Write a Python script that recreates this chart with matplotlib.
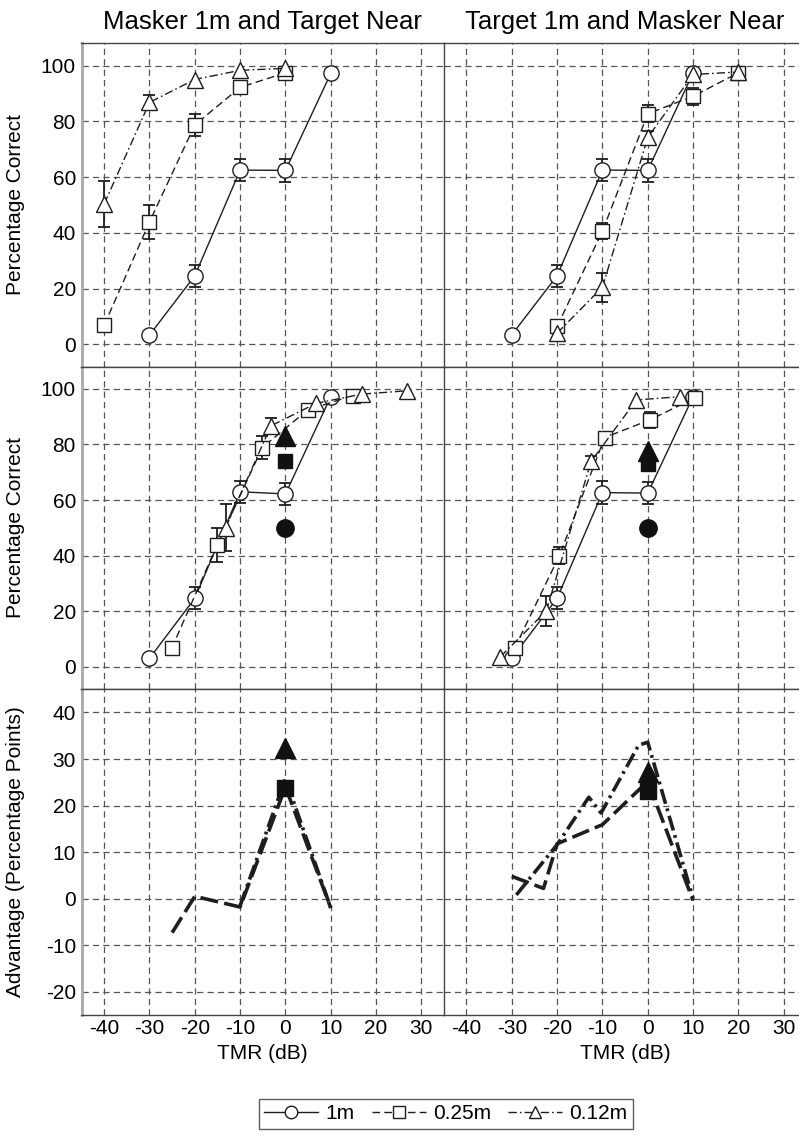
import numpy as np
import matplotlib.pyplot as plt
from matplotlib.lines import Line2D

plt.rcParams['font.family'] = ['Liberation Sans', 'DejaVu Sans']
plt.rcParams['lines.scale_dashes'] = False
plt.rcParams['axes.unicode_minus'] = False

# ---- data (TMR in dB, percentage correct, error half-widths) ----
# top row, masker 1m / target near
tl_1m_x = [-30, -20, -10, 0, 10]
tl_1m_y = [3.3, 24.6, 62.5, 62.4, 97.2]
tl_1m_e = [0, 4, 4, 4, 0]
tl_25_x = [-40, -30, -20, -10, 0]
tl_25_y = [6.8, 43.9, 78.7, 92.2, 97.4]
tl_25_e = [0, 6, 4, 1.5, 0]
tl_12_x = [-40, -30, -20, -10, 0]
tl_12_y = [50.3, 86.8, 95.0, 98.3, 99.0]
tl_12_e = [8.3, 2.7, 0, 0, 0]

# top row, target 1m / masker near
tr_1m_x = [-30, -20, -10, 0, 10]
tr_1m_y = [3.4, 24.6, 62.5, 62.4, 97.4]
tr_1m_e = [0, 4, 4, 4, 0]
tr_25_x = [-20, -10, 0, 10, 20]
tr_25_y = [6.4, 40.6, 82.7, 89.0, 97.4]
tr_25_e = [0, 3, 3, 3, 0]
tr_12_x = [-20, -10, 0, 10, 20]
tr_12_y = [4.0, 20.5, 74.2, 96.8, 97.7]
tr_12_e = [0, 5.2, 2.5, 0, 0]

# middle row, masker 1m / target near (shifted TMR)
ml_1m_x = [-30, -20, -10, 0, 10]
ml_1m_y = [3.1, 24.7, 63.0, 62.2, 97.2]
ml_1m_e = [0, 4, 4, 4, 0]
ml_25_x = [-25.1, -15.1, -5.1, 4.9, 14.9]
ml_25_y = [6.7, 43.8, 78.9, 92.4, 97.6]
ml_25_e = [0, 6, 4, 0, 0]
ml_12_x = [-13.2, -3.2, 6.8, 16.8, 26.8]
ml_12_y = [50.1, 86.7, 94.8, 98.1, 99.3]
ml_12_e = [8.4, 2.8, 0, 0, 0]
ml_fill = {'o': 50.0, 's': 74.2, '^': 82.9}

# middle row, target 1m / masker near
mr_1m_x = [-30, -20, -10, 0, 10]
mr_1m_y = [3.1, 24.7, 62.7, 62.5, 97.2]
mr_1m_e = [0, 4, 4, 4, 0]
mr_25_x = [-29.4, -19.5, -9.5, 0.4, 10.5]
mr_25_y = [6.7, 40.0, 82.5, 88.8, 96.8]
mr_25_e = [0, 3, 2, 3, 0]
mr_12_x = [-32.5, -22.4, -12.5, -2.5, 7.2]
mr_12_y = [3.7, 20.1, 73.9, 96.0, 97.2]
mr_12_e = [0, 5.4, 2, 0, 0]
mr_fill = {'o': 50.0, 's': 72.8, '^': 77.6}

# bottom row, advantage in percentage points
bl_25_x = [-25, -20, -10, 0, 10]
bl_25_y = [-7.3, 0.5, -1.8, 24.0, -2.0]
bl_12_x = [-10, 0, 10]
bl_12_y = [-1.5, 25.8, -2.0]
bl_fill = {'s': 23.8, '^': 32.4}

br_25_x = [-30, -23, -20, -10, 0, 10]
br_25_y = [4.8, 2.2, 11.8, 15.9, 25.2, -0.4]
br_12_x = [-29, -20, -13, -10.3, -2, 0, 10]
br_12_y = [0.8, 11.6, 21.8, 18.4, 33.0, 33.6, 0.0]
br_fill = {'s': 23.1, '^': 27.2}

xticks = [-40, -30, -20, -10, 0, 10, 20, 30]

ink = '#1e1e1e'
styles = {
    '1m': dict(ls='-', dashes=None, marker='o', ms=11),
    '0.25m': dict(ls='--', dashes=(5.5, 3.0), marker='s', ms=9.5),
    '0.12m': dict(ls='-.', dashes=(6, 2.2, 1.2, 2.2), marker='^', ms=11),
}
fill_ms = {'o': 12.5, 's': 10.5, '^': 14}


def draw(ax, key, x, y, e):
    st = styles[key]
    x = np.array(x)
    y = np.array(y)
    e = np.array(e)
    m = e > 0
    if m.any():
        ax.errorbar(x[m], y[m], yerr=e[m], fmt='none', ecolor=ink,
                    elinewidth=1.3, capsize=4.5, capthick=1.3, zorder=2)
    ln, = ax.plot(x, y, color=ink, lw=1.0, ls=st['ls'], marker=st['marker'],
                  ms=st['ms'], mfc='white', mec=ink, mew=1.0, zorder=3)
    if st['dashes']:
        ln.set_dashes(st['dashes'])


def filled(ax, d, ms_scale=1.0):
    for mk, yv in d.items():
        ax.plot([0], [yv], ls='none', marker=mk, color='#111111',
                ms=fill_ms[mk] * ms_scale, zorder=4)


fig = plt.figure(figsize=(7.99, 11.36), dpi=100)

lefts = [81.5 / 799, 443.8 / 799]
w = 362.6 / 799
rows = [(0.6773, 0.2846), (0.3933, 0.2840), (0.1065, 0.2868)]

axes = [[fig.add_axes([l, b, w, h]) for l in lefts] for (b, h) in rows]

for r, row in enumerate(axes):
    for c, ax in enumerate(row):
        ax.set_xlim(-45, 35)
        ax.set_xticks(xticks)
        if r < 2:
            ax.set_ylim(-8, 108)
            ax.set_yticks([0, 20, 40, 60, 80, 100])
        else:
            ax.set_ylim(-25, 45)
            ax.set_yticks([-20, -10, 0, 10, 20, 30, 40])
        ax.grid(True, ls=(0, (4.5, 3)), color='#555555', lw=0.9)
        ax.set_axisbelow(True)
        ax.tick_params(length=0, labelsize=15, pad=4)
        ax.tick_params(axis='x', pad=3)
        if c == 1:
            ax.tick_params(labelleft=False)
        if r < 2:
            ax.tick_params(labelbottom=False)
        for s in ax.spines.values():
            s.set_color('#444444')
            s.set_linewidth(1.0)
        if c == 0:
            ax.spines['left'].set_color('#a8a8a8')
            ax.spines['left'].set_linewidth(2.0)
            ax.spines['right'].set_visible(False)

# top row
draw(axes[0][0], '1m', tl_1m_x, tl_1m_y, tl_1m_e)
draw(axes[0][0], '0.25m', tl_25_x, tl_25_y, tl_25_e)
draw(axes[0][0], '0.12m', tl_12_x, tl_12_y, tl_12_e)
draw(axes[0][1], '1m', tr_1m_x, tr_1m_y, tr_1m_e)
draw(axes[0][1], '0.25m', tr_25_x, tr_25_y, tr_25_e)
draw(axes[0][1], '0.12m', tr_12_x, tr_12_y, tr_12_e)

# middle row
draw(axes[1][0], '1m', ml_1m_x, ml_1m_y, ml_1m_e)
draw(axes[1][0], '0.25m', ml_25_x, ml_25_y, ml_25_e)
draw(axes[1][0], '0.12m', ml_12_x, ml_12_y, ml_12_e)
filled(axes[1][0], ml_fill)
draw(axes[1][1], '1m', mr_1m_x, mr_1m_y, mr_1m_e)
draw(axes[1][1], '0.25m', mr_25_x, mr_25_y, mr_25_e)
draw(axes[1][1], '0.12m', mr_12_x, mr_12_y, mr_12_e)
filled(axes[1][1], mr_fill)

# bottom row
for ax, (x25, y25, x12, y12, fd) in zip(axes[2], [
        (bl_25_x, bl_25_y, bl_12_x, bl_12_y, bl_fill),
        (br_25_x, br_25_y, br_12_x, br_12_y, br_fill)]):
    l1, = ax.plot(x25, y25, color=ink, lw=2.6, zorder=3)
    l1.set_dashes((13, 4.5))
    l2, = ax.plot(x12, y12, color=ink, lw=2.6, zorder=3)
    l2.set_dashes((11, 3.5, 2, 3.5))
    filled(ax, fd, 1.05)
    ax.set_xlabel('TMR (dB)', fontsize=15, labelpad=4)

axes[0][0].set_title('Masker 1m and Target Near', fontsize=18.5, pad=10)
axes[0][1].set_title('Target 1m and Masker Near', fontsize=18.5, pad=10)

axes[0][0].set_ylabel('Percentage Correct', fontsize=15)
axes[1][0].set_ylabel('Percentage Correct', fontsize=15)
axes[2][0].set_ylabel('Advantage (Percentage Points)', fontsize=15)
for r in range(3):
    axes[r][0].yaxis.set_label_coords(-0.155, 0.5)

handles = []
for key in ['1m', '0.25m', '0.12m']:
    st = styles[key]
    h = Line2D([], [], color=ink, lw=1.0, ls=st['ls'], marker=st['marker'],
               ms=9, mfc='white', mec=ink, mew=1.0)
    if st['dashes']:
        h.set_dashes(st['dashes'])
    handles.append(h)
leg = fig.legend(handles, ['1m', '0.25m', '0.12m'], loc='center',
                 bbox_to_anchor=(0.558, 0.0195), ncol=3, frameon=True,
                 fancybox=False, edgecolor='#333333', fontsize=15,
                 handlelength=2.6, columnspacing=0.8, handletextpad=0.35,
                 borderpad=0.25, borderaxespad=0)
leg.get_frame().set_linewidth(1.0)

fig.savefig('out.png', dpi=100)
